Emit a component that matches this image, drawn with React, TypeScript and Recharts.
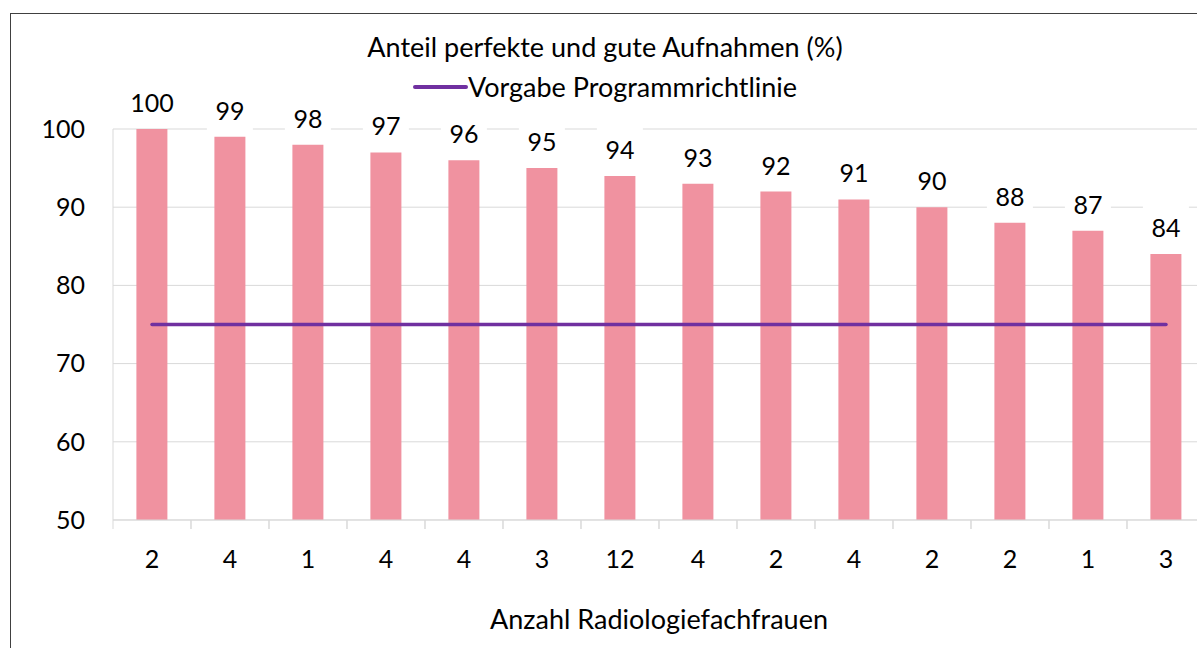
import React from 'react';
import { ComposedChart, Bar, Line, XAxis, YAxis, CartesianGrid, LabelList, Legend } from 'recharts';

const categories = ['2', '4', '1', '4', '4', '3', '12', '4', '2', '4', '2', '2', '1', '3'];
const shares = [100, 99, 98, 97, 96, 95, 94, 93, 92, 91, 90, 88, 87, 84];
const guideline = [75, 75, 75, 75, 75, 75, 75, 75, 75, 75, 75, 75, 75, 75];
const yTicks = [50, 60, 70, 80, 90, 100];

const title = 'Anteil perfekte und gute Aufnahmen (%)';
const lineName = 'Vorgabe Programmrichtlinie';
const xTitle = 'Anzahl Radiologiefachfrauen';

const data = categories.map((c, i) => ({ cat: c, id: i, share: shares[i], target: guideline[i] }));

const FONT = 'Lato, "Open Sans", sans-serif';
const FS = 25;
const FS_TEXT = 27;
const GRID = '#d9d9d9';
const BAR = '#F092A0';
const LINE = '#7030A0';

const BarLabel = (props: any) => {
  const { x, y, width, value } = props;
  const cx = x + width / 2;
  const cy = y - 27;
  return (
    <g>
      <rect x={cx - 23} y={cy - 22} width={46} height={44} fill="#fff" />
      <text x={cx} y={cy} textAnchor="middle" dominantBaseline="central" fontSize={FS} fontFamily={FONT} fill="#000">
        {value}
      </text>
    </g>
  );
};

const XTick = (props: any) => {
  const { x, y, payload } = props;
  const half = payload && payload.offset ? payload.offset : 39;
  return (
    <g>
      <line x1={x - half} y1={y} x2={x - half} y2={y + 9} stroke={GRID} strokeWidth={1} />
      <line x1={x + half} y1={y} x2={x + half} y2={y + 9} stroke={GRID} strokeWidth={1} />
      <text x={x} y={y + 38} textAnchor="middle" dominantBaseline="central" fontSize={FS} fontFamily={FONT} fill="#000">
        {categories[payload.index] ?? payload.value}
      </text>
    </g>
  );
};

const LegendContent = () => (
  <div style={{ width: 1188, fontFamily: FONT, fontSize: FS_TEXT, color: '#000', textAlign: 'center' }}>
    <div style={{ height: 40, lineHeight: '40px', marginTop: 13 }}>{title}</div>
    <div style={{ height: 40, lineHeight: '40px', display: 'flex', justifyContent: 'center', alignItems: 'center' }}>
      <span style={{ display: 'inline-block', width: 55, height: 3.5, background: LINE, borderRadius: 2 }} />
      <span>{lineName}</span>
    </div>
  </div>
);

export default function App() {
  return (
    <div
      style={{
        position: 'absolute',
        left: 10,
        top: 13,
        width: 1195,
        height: 650,
        border: '1px solid #404040',
        background: '#fff',
        fontFamily: FONT,
      }}
    >
      <ComposedChart
        width={1220}
        height={640}
        data={data}
        margin={{ top: 115, right: 26, left: 0, bottom: 74 }}
        barCategoryGap="30%"
      >
        <CartesianGrid vertical={false} stroke={GRID} strokeWidth={1} />
        <XAxis
          dataKey="id"
          type="category"
          tick={<XTick />}
          tickSize={0}
          tickMargin={0}
          height={60}
          axisLine={{ stroke: GRID }}
          tickLine={false}
          interval={0}
          label={{ value: xTitle, position: 'insideTop', offset: 90, fontSize: FS_TEXT, fontFamily: FONT, fill: '#000' }}
        />
        <YAxis
          domain={[50, 100]}
          ticks={yTicks}
          width={102}
          tickSize={0}
          tickMargin={28}
          tickLine={false}
          axisLine={{ stroke: GRID }}
          tick={{ fontSize: FS, fontFamily: FONT, fill: '#000' }}
          interval={0}
        />
        <Legend verticalAlign="middle" layout="horizontal" content={<LegendContent />} wrapperStyle={{ top: 0, left: 0, width: 1188 }} />
        <Bar dataKey="share" fill={BAR} isAnimationActive={false} legendType="none">
          <LabelList dataKey="share" content={<BarLabel />} />
        </Bar>
        <Line
          dataKey="target"
          name={lineName}
          stroke={LINE}
          strokeWidth={3.5}
          dot={false}
          activeDot={false}
          strokeLinecap="round"
          isAnimationActive={false}
        />
      </ComposedChart>
    </div>
  );
}
